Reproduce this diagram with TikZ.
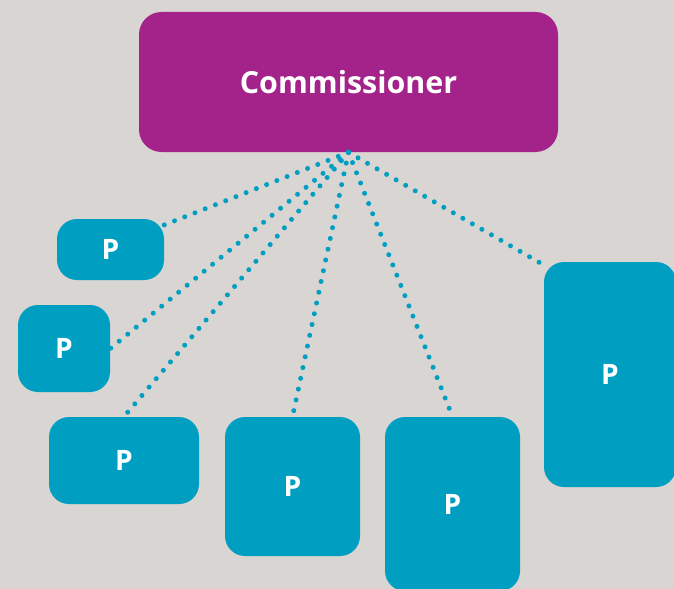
\documentclass[tikz,border=0pt]{standalone}
\usepackage{fontspec}
\setmainfont{Open Sans}
\usetikzlibrary{positioning}
\definecolor{commpurple}{RGB}{163,35,138}
\definecolor{pteal}{RGB}{0,159,194}
\definecolor{bggray}{RGB}{217,213,210}

\begin{document}
\begin{tikzpicture}[
        commbox/.style={rectangle, rounded corners=0.45cm, fill=commpurple,
                        minimum width=8.38cm, minimum height=2.8cm, align=center,
                        text=white, font=\fontsize{17.3}{20}\selectfont\bfseries},
        pbox/.style={rectangle, rounded corners=0.4cm, fill=pteal,
                     align=center, text=white, font=\fontsize{16}{18}\selectfont\bfseries},
        dotline/.style={pteal, line width=0.1cm, line cap=round,
                        dash pattern=on 0pt off 0.22cm}
      ]
        \fill[bggray] (0,0) rectangle (13.48,-11.78);
        \useasboundingbox (0,0) rectangle (13.48,-11.78);

        \node[commbox] (comm) at (6.97,-1.64) {Commissioner};

        \node[pbox, minimum width=2.14cm, minimum height=1.22cm] (p1) at (2.21,-4.99) {P};
        \node[pbox, minimum width=1.84cm, minimum height=1.74cm] (p2) at (1.28,-6.97) {P};
        \node[pbox, minimum width=3.00cm, minimum height=1.74cm] (p3) at (2.48,-9.21) {P};
        \node[pbox, minimum width=2.70cm, minimum height=2.78cm] (p4) at (5.85,-9.73) {P};
        \node[pbox, minimum width=2.70cm, minimum height=3.48cm] (p5) at (9.05,-10.08) {P};
        \node[pbox, minimum width=2.64cm, minimum height=4.50cm] (p6) at (12.20,-7.49) {P};

        % dotted links from the commissioner
        \draw[dotline] (comm.south) -- ([shift={(-0.04,-0.14)}]p1.north east);
        \draw[dotline] (comm.south) -- (p2.east);
        \draw[dotline] (comm.south) -- (p3.north);
        \draw[dotline] (comm.south) -- (p4.north);
        \draw[dotline] (comm.south) -- (p5.north);
        \draw[dotline] (comm.south) -- ([shift={(0.06,-0.10)}]p6.north west);
      \end{tikzpicture}
\end{document}
